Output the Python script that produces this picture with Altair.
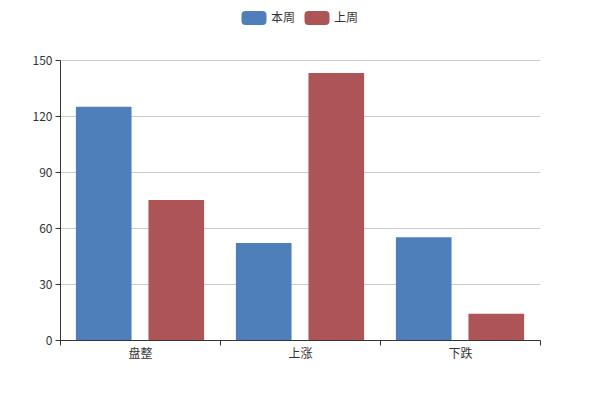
import altair as alt
import pandas as pd

categories = ["盘整", "上涨", "下跌"]
series_names = ["本周", "上周"]
this_week = [125, 52, 55]
last_week = [75, 143, 14]
colors = ["#4f7fbb", "#ad5457"]

rows = []
for i, c in enumerate(categories):
    rows.append({"cat": c, "series": series_names[0], "value": this_week[i]})
    rows.append({"cat": c, "series": series_names[1], "value": last_week[i]})
df = pd.DataFrame(rows)

FONT = "Noto Sans CJK SC"
rounded = ("M -1.7 -1.4 L 1.7 -1.4 Q 2.5 -1.4 2.5 -0.6 L 2.5 0.6 Q 2.5 1.4 1.7 1.4 "
           "L -1.7 1.4 Q -2.5 1.4 -2.5 0.6 L -2.5 -0.6 Q -2.5 -1.4 -1.7 -1.4 Z")

chart = alt.Chart(df).mark_bar().encode(
    x=alt.X("cat:N", sort=categories, title=None,
            scale=alt.Scale(paddingInner=0, paddingOuter=0),
            axis=alt.Axis(labelAngle=0, tickBand="extent", domainColor="#333",
                          tickColor="#333", tickSize=5, labelColor="#333",
                          labelFontSize=12, labelFont=FONT, labelPadding=3,
                          grid=False)),
    xOffset=alt.XOffset("series:N", sort=series_names,
                        scale=alt.Scale(paddingInner=0.233, paddingOuter=0.219)),
    y=alt.Y("value:Q", title=None,
            scale=alt.Scale(domain=[0, 150]),
            axis=alt.Axis(values=[0, 30, 60, 90, 120, 150], domainColor="#333",
                          tickColor="#333", tickSize=5, labelColor="#333",
                          labelFontSize=12, labelFont=FONT, labelPadding=3,
                          gridColor="#ccc", grid=True)),
    color=alt.Color("series:N", sort=series_names, title=None,
                    scale=alt.Scale(domain=series_names, range=colors),
                    legend=alt.Legend(orient="none", legendX=188, legendY=-48,
                                      direction="horizontal", symbolType=rounded,
                                      symbolSize=100, symbolStrokeWidth=0,
                                      labelFont=FONT, labelFontSize=12,
                                      labelColor="#333", labelOffset=11,
                                      columnPadding=8, symbolOpacity=1)),
).properties(
    width=480, height=280,
    autosize=alt.AutoSizeParams(type="none"),
    padding={"left": 52, "top": 52, "right": 52, "bottom": 52},
).configure_view(stroke=None).configure_axis(domainWidth=1)

chart.save("out.html", embed_options={"renderer": "svg", "actions": False})
